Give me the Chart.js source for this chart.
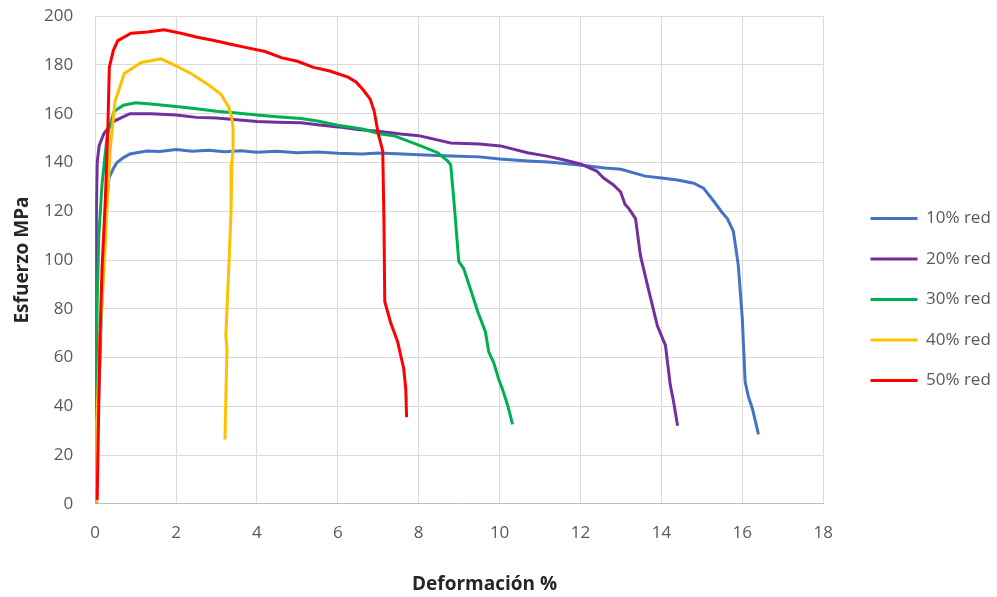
<!DOCTYPE html>
<html>
<head>
<meta charset="utf-8">
<script src="https://cdn.jsdelivr.net/npm/chart.js@4.4.1/dist/chart.umd.min.js"></script>
<style>
  html, body { margin: 0; padding: 0; background: #fff; }
  #wrap { width: 997px; height: 597px; }
</style>
</head>
<body>
<div id="wrap"><canvas id="curvas"></canvas></div>
<script>
// etiquetas
var seriesNames = ["10% red", "20% red", "30% red", "40% red", "50% red"];
var seriesColors = ["#4472C4", "#7030A0", "#00B050", "#FFC000", "#FF0000"];
var xTicks = [0, 2, 4, 6, 8, 10, 12, 14, 16, 18];
var yTicks = [0, 20, 40, 60, 80, 100, 120, 140, 160, 180, 200];

// 10% red
var def10 = [0, 0.1, 0.2, 0.28, 0.34, 0.45, 0.54, 0.7, 0.86, 1.1, 1.28, 1.6, 2.0, 2.4, 2.8, 3.2, 3.6, 4.0, 4.5, 5.0, 5.5, 6.0, 6.6, 7.0, 7.6, 8.0, 8.8, 9.5, 10.0, 10.7, 11.2, 11.6, 12.2, 12.6, 13.0, 13.6, 14.0, 14.4, 14.8, 15.04, 15.3, 15.5, 15.63, 15.78, 15.9, 16.0, 16.07, 16.15, 16.25, 16.4];
var esf10 = [0, 50, 100, 122, 133.7, 137.5, 140, 142, 143.5, 144.2, 144.7, 144.5, 145.3, 144.6, 145, 144.4, 144.8, 144.2, 144.6, 144, 144.3, 143.8, 143.5, 143.9, 143.5, 143.2, 142.7, 142.3, 141.4, 140.6, 140.2, 139.6, 138.6, 137.7, 137.2, 134.4, 133.6, 132.8, 131.5, 129.5, 124, 119.5, 117, 111.7, 98, 76, 50, 44, 39, 28.5];

// 20% red
var def20 = [0, 0.02, 0.03, 0.05, 0.1, 0.22, 0.47, 0.86, 1.38, 2.0, 2.5, 3.0, 3.5, 4.0, 4.5, 5.09, 5.5, 6.0, 6.5, 7.0, 7.56, 8.0, 8.79, 9.5, 10.02, 10.69, 11.2, 11.6, 12.0, 12.4, 12.57, 12.8, 12.99, 13.1, 13.2, 13.36, 13.48, 13.65, 13.9, 14.1, 14.22, 14.3, 14.4];
var esf20 = [0, 60, 120, 140, 147, 152, 157, 160, 160, 159.5, 158.5, 158.2, 157.5, 156.8, 156.5, 156.3, 155.5, 154.6, 153.5, 152.8, 151.7, 151, 148, 147.6, 146.8, 144, 142.5, 141, 139.4, 136.5, 133.6, 131, 128, 122.9, 121, 117, 102, 90, 73, 65, 48.6, 42, 32];

// 30% red
var def30 = [0, 0.02, 0.05, 0.09, 0.17, 0.3, 0.47, 0.7, 1.0, 1.38, 2.0, 2.5, 3.0, 3.5, 4.0, 4.5, 5.09, 5.5, 6.0, 6.57, 7.06, 7.38, 8.05, 8.47, 8.72, 8.79, 8.85, 8.91, 8.99, 9.11, 9.28, 9.46, 9.65, 9.73, 9.85, 9.98, 10.07, 10.2, 10.32];
var esf30 = [0, 37, 83, 110, 131, 151.7, 161, 163.5, 164.5, 164, 163, 162, 161, 160.3, 159.5, 158.8, 158, 157, 155.3, 153.8, 151.7, 151, 146.8, 144, 140.6, 139, 128, 116, 99.4, 96.5, 88, 78.8, 70.5, 62.3, 58, 51, 47, 40.4, 32.6];

// 40% red
var def40 = [0, 0.02, 0.05, 0.12, 0.22, 0.3, 0.37, 0.49, 0.72, 1.14, 1.63, 1.95, 2.37, 2.79, 3.11, 3.31, 3.38, 3.41, 3.41, 3.38, 3.36, 3.31, 3.23, 3.26, 3.24, 3.21];
var esf40 = [0, 30, 37.5, 69, 96.5, 124, 145, 165, 176.5, 181, 182.5, 180, 176.5, 172, 168, 162.5, 158, 154, 146, 140, 120, 99, 69, 63.5, 50, 26.4];

// 50% red
var def50 = [0.05, 0.09, 0.12, 0.17, 0.25, 0.31, 0.35, 0.45, 0.56, 0.89, 1.3, 1.7, 2.12, 2.5, 2.94, 3.35, 3.77, 4.2, 4.6, 5.0, 5.4, 5.8, 6.25, 6.45, 6.64, 6.8, 6.9, 7.0, 7.11, 7.14, 7.16, 7.3, 7.48, 7.63, 7.68, 7.7];
var esf50 = [1.6, 41.6, 69, 96.5, 124, 151.7, 179, 186, 190, 193, 193.5, 194.4, 193, 191.5, 190, 188.5, 187, 185.5, 183, 181.5, 179, 177.5, 175, 173, 169.5, 166, 161, 151.7, 144.7, 116, 83, 74.6, 66.4, 55.3, 47, 35.5];

var allX = [def10, def20, def30, def40, def50];
var allY = [esf10, esf20, esf30, esf40, esf50];

function pares(xs, ys){
  var out = [];
  for (var i = 0; i < xs.length; i++) out.push({x: xs[i], y: ys[i]});
  return out;
}

var datasets = [];
for (var s = 0; s < seriesNames.length; s++) {
  datasets.push({
    label: seriesNames[s],
    data: pares(allX[s], allY[s]),
    borderColor: seriesColors[s],
    backgroundColor: seriesColors[s],
    borderWidth: 3,
    pointRadius: 0,
    showLine: true,
    tension: 0,
    order: seriesNames.length - s   // la ultima serie queda arriba
  });
}

// mueve leyenda y titulo inferior a donde estan en el original
var LEGEND_LEFT = 847;
var LEGEND_DOWN = 1.5;
var TITLE_SHIFT = -4;
var nudge = {
  id: 'nudge',
  afterLayout: function(chart){
    var lg = chart.legend;
    var dx = LEGEND_LEFT - lg.left;
    lg.left += dx; lg.right += dx;
    lg.top += LEGEND_DOWN; lg.bottom += LEGEND_DOWN;
    var tb = chart.titleBlock;
    tb.left += TITLE_SHIFT; tb.right += TITLE_SHIFT;
  }
};

Chart.defaults.font.family = "'Open Sans', sans-serif";

var ctx = document.getElementById('curvas');
var chart = new Chart(ctx, {
  type: 'scatter',
  data: { datasets: datasets },
  options: {
    responsive: true,
    maintainAspectRatio: false,
    animation: false,
    layout: { padding: { left: 0, right: 20, top: 0, bottom: 1 } },
    plugins: {
      legend: {
        position: 'right',
        labels: {
          usePointStyle: true,
          pointStyle: 'line',
          pointStyleWidth: 47,
          color: '#595959',
          font: { size: 17 },
          padding: 23.5,
          sort: function(a, b){ return a.datasetIndex - b.datasetIndex; }
        }
      },
      title: {
        display: true,
        position: 'bottom',
        text: 'Deformación %',
        color: '#262626',
        font: { size: 19, weight: 'bold' },
        padding: { top: 11, bottom: 0 }
      },
      tooltip: { enabled: false }
    },
    scales: {
      x: {
        type: 'linear',
        min: 0, max: 18,
        afterBuildTicks: function(ax){ ax.ticks = xTicks.map(function(v){ return {value: v}; }); },
        grid: { color: '#d9d9d9', lineWidth: 1, drawTicks: false },
        border: { color: '#bfbfbf', width: 1 },
        ticks: { color: '#595959', font: { size: 17 }, padding: 19 }
      },
      y: {
        type: 'linear',
        min: 0, max: 200,
        afterBuildTicks: function(ax){ ax.ticks = yTicks.map(function(v){ return {value: v}; }); },
        // marcas invisibles: solo separan las etiquetas del area
        grid: { color: '#d9d9d9', lineWidth: 1, drawTicks: true, tickLength: 16, tickColor: 'rgba(0,0,0,0)' },
        border: { color: '#d9d9d9', width: 1 },
        ticks: { color: '#595959', font: { size: 17 }, padding: 6 },
        title: {
          display: true,
          text: 'Esfuerzo MPa',
          color: '#262626',
          font: { size: 19, weight: 'bold' },
          padding: { top: 11.6, bottom: 3.6 }
        }
      }
    }
  },
  plugins: [nudge]
});
</script>
</body>
</html>
